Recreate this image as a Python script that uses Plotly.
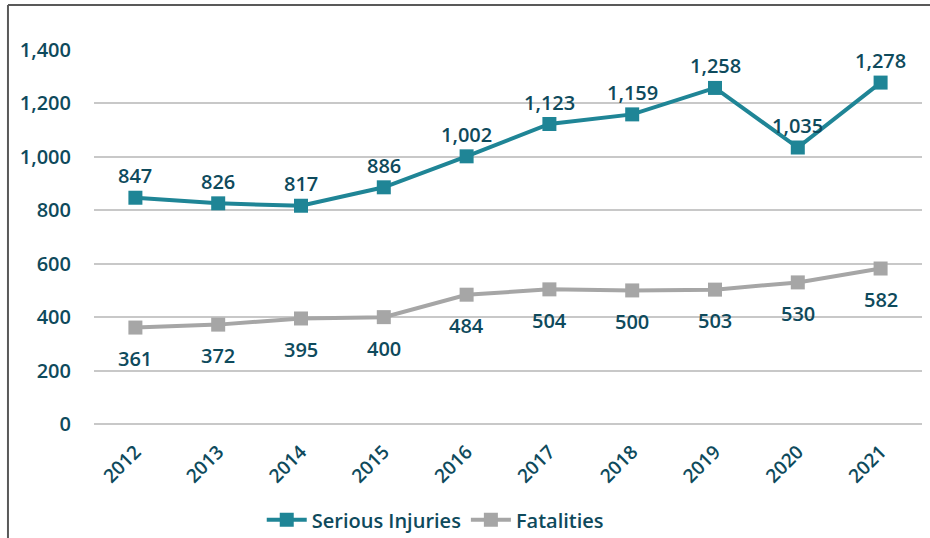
import plotly.graph_objects as go

years = [2012, 2013, 2014, 2015, 2016, 2017, 2018, 2019, 2020, 2021]
serious_injuries = [847, 826, 817, 886, 1002, 1123, 1159, 1258, 1035, 1278]
fatalities = [361, 372, 395, 400, 484, 504, 500, 503, 530, 582]
y_ticks = [0, 200, 400, 600, 800, 1000, 1200, 1400]

TEAL = "#1F8596"
GRAY = "#A6A6A6"
TXT = "#0E4A5C"
FONT = "Open Sans"

fig = go.Figure()
fig.add_trace(go.Scatter(
    x=years, y=serious_injuries, name="Serious Injuries", mode="lines+markers",
    line=dict(color=TEAL, width=4), marker=dict(symbol="square", size=14, color=TEAL)))
fig.add_trace(go.Scatter(
    x=years, y=fatalities, name="Fatalities", mode="lines+markers",
    line=dict(color=GRAY, width=4), marker=dict(symbol="square", size=14, color=GRAY)))

for x, v in zip(years, serious_injuries):
    fig.add_annotation(x=x, y=v, text=f"{v:,}", showarrow=False, yshift=22,
                       font=dict(family=FONT, size=20, color=TXT, weight=600))
for x, v in zip(years, fatalities):
    fig.add_annotation(x=x, y=v, text=f"{v:,}", showarrow=False, yshift=-31,
                       font=dict(family=FONT, size=20, color=TXT, weight=600))

# outer frame (left and top edges)
fig.add_shape(type="line", xref="paper", yref="paper", x0=-0.1039, x1=-0.1039, y0=1.1203, y1=-0.35,
              line=dict(color="#595959", width=2))
fig.add_shape(type="line", xref="paper", yref="paper", x0=-0.1039, x1=1.05, y0=1.1203, y1=1.1203,
              line=dict(color="#595959", width=2))

fig.update_layout(
    width=930, height=538,
    margin=dict(l=94, r=8, t=50, b=114, autoexpand=False),
    paper_bgcolor="white", plot_bgcolor="white",
    font=dict(family=FONT, size=20, color=TXT, weight=600),
    showlegend=True,
    legend=dict(orientation="h", xref="container", yref="container",
                x=0.468, xanchor="center", y=0.034, yanchor="middle",
                font=dict(family=FONT, size=20, color=TXT, weight=600), itemwidth=40,
                tracegroupgap=0),
    xaxis=dict(range=[2011.5, 2021.5], tickvals=years, tickformat="d", tickangle=-45,
               showgrid=False, showline=False, zeroline=False, ticks="", automargin=False,
               ticklabelstandoff=12,
               tickfont=dict(family=FONT, size=19, color=TXT, weight=600)),
    yaxis=dict(range=[0, 1400], tickvals=y_ticks, tickformat=",", showgrid=True,
               gridcolor="#C8C8C8", gridwidth=1.5, zeroline=True, zerolinecolor="#C8C8C8",
               zerolinewidth=1.5, showline=False, ticks="", ticklabelstandoff=22,
               automargin=False,
               tickfont=dict(family=FONT, size=20, color=TXT, weight=600)),
)

fig.write_html("out.html", config={"displayModeBar": False},
               post_script="document.body.style.margin='0';")
